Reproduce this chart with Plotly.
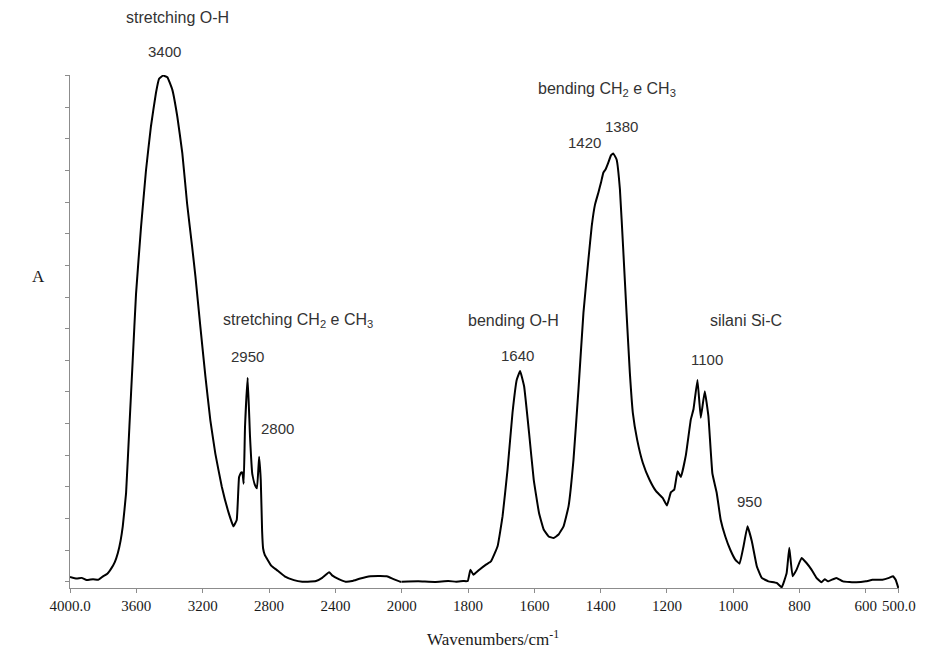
import plotly.graph_objects as go

# ---- data ----
wavenumber = [
    4000, 3960, 3930, 3900, 3861, 3830, 3801, 3775, 3751, 3730, 3712, 3695, 3682, 3662,
    3642, 3622, 3602, 3572, 3542, 3512, 3482, 3463, 3439, 3413, 3383, 3353, 3323, 3294,
    3264, 3244, 3214, 3184, 3154, 3124, 3085, 3045, 3015, 2995, 2981, 2969, 2961, 2953,
    2945, 2929, 2915, 2901, 2885, 2873, 2860, 2850, 2842, 2836, 2826, 2786, 2756, 2706,
    2650, 2600, 2567, 2517, 2480, 2438, 2420, 2380, 2339, 2299, 2250, 2189, 2130, 2090,
    2050, 2010, 2000,
    1950, 1900, 1860, 1836, 1815, 1801, 1793, 1784, 1766, 1746, 1731, 1711, 1696, 1681,
    1666, 1653, 1643, 1631, 1616, 1602, 1586, 1572, 1557, 1542, 1527, 1512, 1497, 1482,
    1467, 1452, 1437, 1427, 1417, 1407, 1399, 1392, 1385, 1377, 1369, 1362, 1352, 1342,
    1332, 1322, 1312, 1303, 1290, 1273, 1253, 1233, 1213, 1200, 1188, 1178, 1168, 1158,
    1143, 1128, 1120, 1108, 1098, 1086, 1075, 1063, 1050, 1038, 1024, 1009, 994, 981,
    969, 957, 944, 929, 914, 894, 869, 854, 839, 831, 821, 809, 794, 779, 764, 749, 734,
    724, 714, 689, 669, 629, 600, 580, 550, 530, 518, 510, 502,
]
absorbance = [
    0.15, 0.10, 0.12, 0.05, 0.08, 0.06, 0.17, 0.25, 0.42, 0.62, 0.90, 1.30, 1.75, 2.80,
    4.90, 7.00, 9.10, 11.20, 13.00, 14.40, 15.45, 15.90, 16.00, 15.95, 15.55, 14.70, 13.55, 11.95,
    10.60, 9.65, 8.05, 6.50, 5.10, 4.05, 3.00, 2.20, 1.75, 1.95, 3.30, 3.45, 3.45, 3.10,
    4.90, 6.45, 4.60, 3.40, 3.05, 2.95, 3.95, 3.20, 1.60, 1.05, 0.85, 0.50, 0.38, 0.17,
    0.05, 0.00, 0.00, 0.02, 0.12, 0.30, 0.20, 0.08, 0.00, 0.02, 0.10, 0.17, 0.18, 0.17,
    0.08, 0.00, 0.00,
    0.01, -0.01, 0.02, 0.00, 0.02, 0.02, 0.38, 0.22, 0.38, 0.54, 0.64, 1.12, 2.07, 3.54,
    5.34, 6.39, 6.66, 6.18, 4.70, 3.23, 2.17, 1.65, 1.43, 1.38, 1.49, 1.75, 2.38, 3.86,
    6.08, 8.50, 10.19, 11.24, 11.93, 12.30, 12.62, 12.93, 13.04, 13.25, 13.48, 13.54, 13.35, 12.41,
    10.51, 8.50, 6.60, 5.34, 4.49, 3.76, 3.23, 2.86, 2.65, 2.41, 2.83, 2.91, 3.49, 3.31,
    4.00, 5.13, 5.45, 6.38, 5.18, 6.02, 5.23, 3.42, 2.81, 1.96, 1.43, 1.01, 0.70, 0.57,
    1.12, 1.75, 1.28, 0.49, 0.12, 0.01, -0.04, -0.18, 0.27, 1.07, 0.17, 0.38, 0.75, 0.59, 0.38, 0.12, -0.02,
    0.08, 0.01, 0.12, 0.01, -0.02, 0.01, 0.06, 0.06, 0.12, 0.17, 0.06, -0.20,
]

ticks_high = [4000, 3600, 3200, 2800, 2400]
ticks_high_text = ["4000.0", "3600", "3200", "2800", "2400"]
ticks_low = [2000, 1800, 1600, 1400, 1200, 1000, 800, 600, 500]
ticks_low_text = ["2000", "1800", "1600", "1400", "1200", "1000", "800", "600", "500.0"]

# label text, wavenumber, absorbance level (levels above the axis top are placed in paper space)
group_labels = [
    ("stretching O-H", 3355, 17.85),
    ("stretching CH<sub>2</sub> e CH<sub>3</sub>", 2627, 8.26),
    ("bending O-H", 1662, 8.26),
    ("bending CH<sub>2</sub> e CH<sub>3</sub>", 1380, 15.57),
    ("silani Si-C", 963, 8.26),
]
peak_labels = [
    ("3400", 3433, 16.77),
    ("2950", 2931, 7.12),
    ("2800", 2752, 4.84),
    ("1640", 1650, 7.15),
    ("1420", 1450, 13.89),
    ("1380", 1337, 14.40),
    ("1100", 1080, 7.03),
    ("950", 951, 2.53),
]

BREAK = 2000
Y_RANGE = [-0.2, 16.02]
hi_w = [w for w in wavenumber if w >= BREAK]
hi_a = [a for w, a in zip(wavenumber, absorbance) if w >= BREAK]
lo_w = [w for w in wavenumber if w <= BREAK]
lo_a = [a for w, a in zip(wavenumber, absorbance) if w <= BREAK]

fig = go.Figure()
line = dict(color="black", width=2, shape="spline", smoothing=0.3)
fig.add_trace(go.Scatter(x=hi_w, y=hi_a, mode="lines", line=line, xaxis="x", yaxis="y",
                         showlegend=False))
fig.add_trace(go.Scatter(x=lo_w, y=lo_a, mode="lines", line=line, xaxis="x2", yaxis="y",
                         showlegend=False))

split = (405 - 70) / 837.0
tickfont = dict(family="Liberation Serif", size=15, color="#1a1a1a")
axis_common = dict(showline=True, linecolor="#8c8c8c", linewidth=1, ticks="outside",
                   ticklen=4, tickcolor="#8c8c8c", showgrid=False, zeroline=False,
                   tickfont=tickfont, anchor="y")

fig.update_layout(
    width=928, height=648,
    margin=dict(l=70, r=21, t=75, b=60),
    paper_bgcolor="white", plot_bgcolor="white",
    xaxis=dict(domain=[0, split], range=[4000, 2000], tickvals=ticks_high,
               ticktext=ticks_high_text, **axis_common),
    xaxis2=dict(domain=[split, 1], range=[2000, 500], tickvals=ticks_low,
                ticktext=ticks_low_text, **axis_common),
    yaxis=dict(range=Y_RANGE, tickvals=list(range(0, 17)), showticklabels=False,
               showline=True, linecolor="#8c8c8c", linewidth=1, ticks="outside",
               ticklen=4, tickcolor="#8c8c8c", showgrid=False, zeroline=False),
)


def make_ann(text, w, a, size):
    xref = "x" if w > BREAK else "x2"
    if a > Y_RANGE[1]:
        yref, yv = "paper", (a - Y_RANGE[0]) / (Y_RANGE[1] - Y_RANGE[0])
    else:
        yref, yv = "y", a
    return dict(text=text, x=w, y=yv, xref=xref, yref=yref, showarrow=False,
                xanchor="center", yanchor="middle",
                font=dict(family="Liberation Sans", size=size, color="#333333"))


ann = [make_ann(t, w, a, 16) for t, w, a in group_labels]
ann += [make_ann(t, w, a, 15) for t, w, a in peak_labels]
ann.append(dict(text="Wavenumbers/cm<sup>-1</sup>", x=0.51, y=-0.0975, xref="paper",
                yref="paper", showarrow=False, xanchor="center", yanchor="middle",
                font=dict(family="Liberation Serif", size=17, color="#1a1a1a")))
ann.append(dict(text="A", x=-0.038, y=0.608, xref="paper", yref="paper", showarrow=False,
                xanchor="center", yanchor="middle",
                font=dict(family="Liberation Serif", size=17, color="#1a1a1a")))
fig.update_layout(annotations=ann)

fig.write_html("out.html")
